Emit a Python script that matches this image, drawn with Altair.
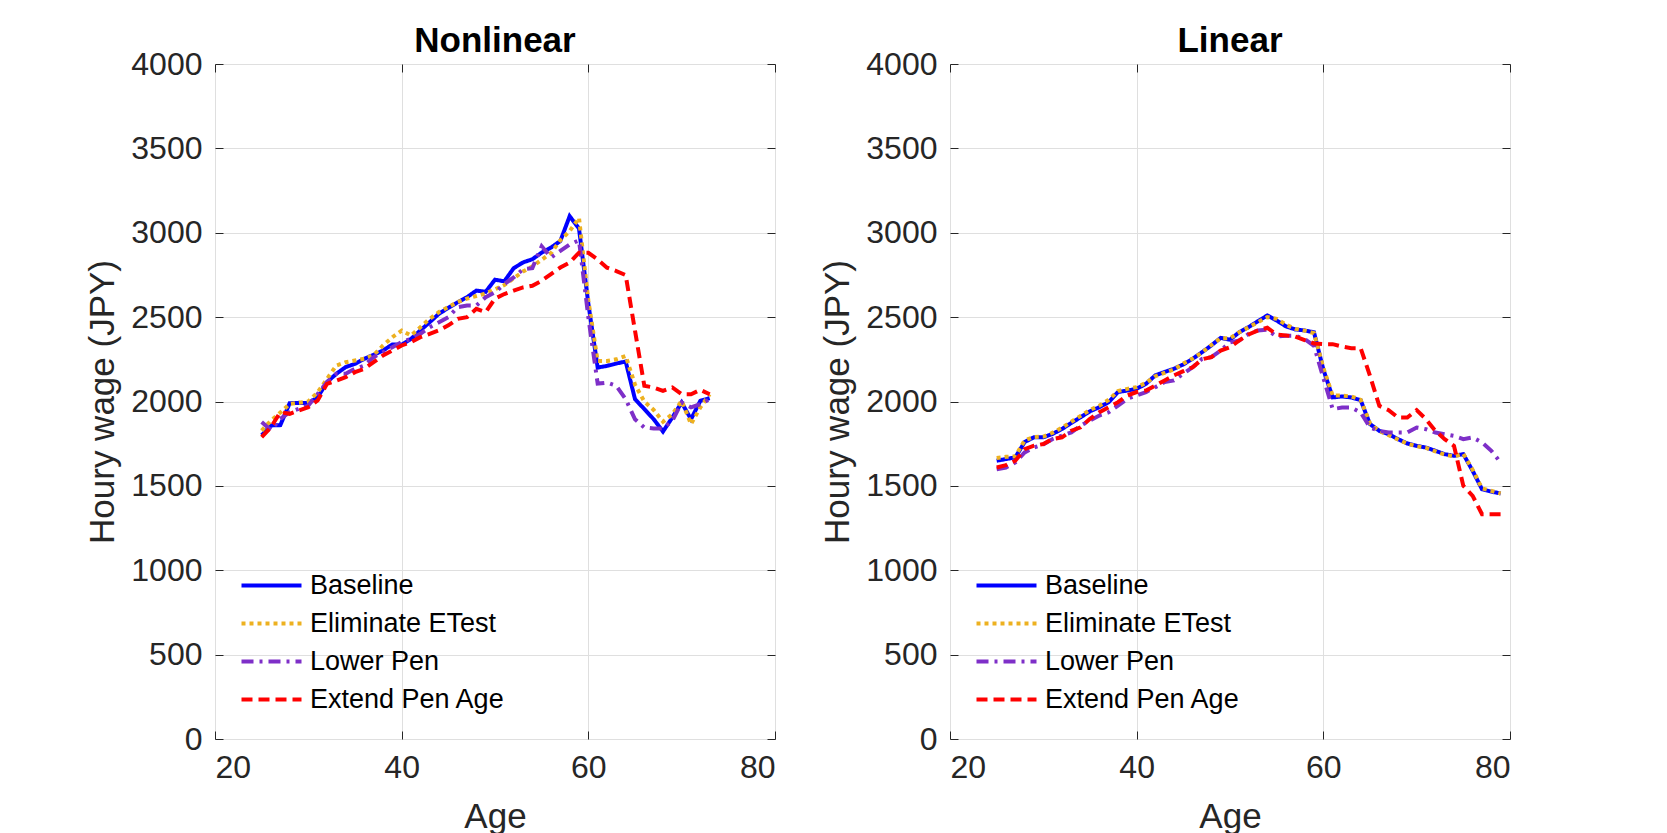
import altair as alt
import pandas as pd

SERIES = ["Baseline", "Eliminate ETest", "Lower Pen", "Extend Pen Age"]
COLORS = ["#0000FF", "#EDB120", "#7E2FC8", "#FF0000"]
DASHES = [[1, 0], [4, 4], [12, 6, 3, 6], [11, 6]]

# ---- Nonlinear panel (ages 25-73) ----
ages_nl = list(range(25, 74))
nl_baseline = [1800, 1858, 1860, 1990, 1992, 1990, 2025, 2115, 2164, 2204,
               2223, 2253, 2277, 2302, 2338, 2336, 2371, 2421, 2470, 2520,
               2555, 2588, 2618, 2657, 2650, 2722, 2712, 2790, 2824, 2843,
               2882, 2912, 2951, 3098, 3025, 2580, 2201, 2211, 2225, 2237,
               2014, 1955, 1895, 1822, 1905, 1994, 1895, 2004, 2020]
nl_elim = [1828, 1887, 1935, 1986, 1992, 2000, 2055, 2134, 2213, 2233,
           2243, 2253, 2275, 2332, 2381, 2420, 2391, 2440, 2490, 2530,
           2560, 2590, 2610, 2625, 2640, 2665, 2690, 2730, 2770, 2800,
           2840, 2880, 2955, 3010, 3088, 2600, 2240, 2240, 2250, 2270,
           2100, 2000, 1950, 1880, 1925, 2004, 1866, 1965, 2043]
nl_lower = [1878, 1830, 1897, 1937, 1957, 1976, 2045, 2115, 2164, 2164,
            2194, 2213, 2263, 2292, 2322, 2352, 2371, 2401, 2440, 2470,
            2500, 2559, 2569, 2569, 2618, 2647, 2696, 2735, 2784, 2790,
            2920, 2853, 2892, 2931, 2955, 2500, 2106, 2112, 2093, 2014,
            1895, 1846, 1840, 1840, 1886, 1994, 1965, 1984, 2014]
nl_extend = [1789, 1848, 1937, 1927, 1947, 1966, 2006, 2105, 2124, 2144,
             2174, 2194, 2233, 2273, 2302, 2332, 2352, 2381, 2401, 2422,
             2451, 2490, 2500, 2549, 2530, 2610, 2637, 2657, 2676, 2686,
             2716, 2755, 2794, 2824, 2882, 2881, 2842, 2793, 2773, 2749,
             2420, 2093, 2083, 2063, 2083, 2043, 2043, 2069, 2043]

# ---- Linear panel (ages 25-79) ----
ages_li = list(range(25, 80))
li_baseline = [1649, 1659, 1669, 1760, 1788, 1788, 1808, 1837, 1873, 1907,
               1942, 1966, 1996, 2056, 2065, 2075, 2105, 2155, 2175, 2194,
               2220, 2253, 2292, 2332, 2377, 2366, 2411, 2441, 2476, 2510,
               2480, 2445, 2427, 2421, 2410, 2190, 2024, 2030, 2024, 2008,
               1866, 1826, 1806, 1777, 1751, 1737, 1727, 1708, 1688, 1678,
               1688, 1589, 1480, 1466, 1455]
li_elim = [1665, 1672, 1675, 1770, 1790, 1792, 1815, 1845, 1880, 1915,
           1950, 1975, 2010, 2062, 2075, 2085, 2110, 2150, 2170, 2190,
           2225, 2255, 2290, 2335, 2375, 2375, 2410, 2440, 2470, 2500,
           2490, 2455, 2430, 2420, 2405, 2200, 2035, 2035, 2030, 2010,
           1870, 1825, 1800, 1775, 1750, 1735, 1725, 1705, 1685, 1675,
           1690, 1595, 1485, 1470, 1455]
li_lower = [1599, 1609, 1639, 1698, 1728, 1745, 1778, 1798, 1817, 1857,
            1887, 1917, 1936, 1976, 2016, 2036, 2056, 2085, 2115, 2125,
            2164, 2203, 2253, 2263, 2302, 2350, 2362, 2401, 2421, 2425,
            2385, 2390, 2390, 2370, 2330, 2140, 1955, 1964, 1964, 1935,
            1846, 1826, 1816, 1816, 1816, 1846, 1836, 1816, 1806, 1796,
            1777, 1787, 1757, 1708, 1638]
li_extend = [1609, 1623, 1649, 1718, 1738, 1748, 1778, 1788, 1827, 1847,
             1897, 1936, 1966, 1996, 2036, 2056, 2065, 2095, 2125, 2155,
             2180, 2203, 2250, 2263, 2302, 2322, 2362, 2397, 2421, 2437,
             2397, 2391, 2385, 2364, 2344, 2340, 2340, 2326, 2316, 2316,
             2152, 1974, 1949, 1905, 1905, 1949, 1895, 1826, 1777, 1737,
             1500, 1441, 1332, 1332, 1332]

X_TICKS = [20, 40, 60, 80]
Y_TICKS = [0, 500, 1000, 1500, 2000, 2500, 3000, 3500, 4000]

FONT = "Liberation Sans"
AX = "#262626"
GRID = "#DFDFDF"


def long_df(ages, series_lists):
    rows = []
    for name, vals in zip(SERIES, series_lists):
        for a, v in zip(ages, vals):
            rows.append({"Age": a, "Wage": v, "Series": name})
    return pd.DataFrame(rows)


def panel(df, title):
    xscale = alt.Scale(domain=[20, 80], nice=False, zero=False)
    yscale = alt.Scale(domain=[0, 4000], nice=False)
    legend = alt.Legend(
        title=None, orient="none", legendX=43, legendY=508,
        symbolType="M-3,0H3", symbolSize=400, symbolStrokeWidth=4,
        labelFontSize=27, labelFont=FONT, labelColor="black", labelLimit=0,
        labelOffset=25, rowPadding=10, padding=0,
    )
    color = alt.Color("Series:N", scale=alt.Scale(domain=SERIES, range=COLORS), legend=legend)
    dash = alt.StrokeDash("Series:N", scale=alt.Scale(domain=SERIES, range=DASHES), legend=legend)
    x_axis = alt.Axis(
        orient="bottom", values=X_TICKS, format="d", offset=-8, tickSize=8,
        domain=False, grid=True, gridColor=GRID, tickColor=AX,
        labelFontSize=32, labelFont=FONT, labelColor=AX, labelPadding=13,
        title="Age", titleFontSize=35, titleFont=FONT, titleFontWeight="normal",
        titleColor=AX, titlePadding=16,
    )
    y_axis = alt.Axis(
        orient="left", values=Y_TICKS, format="d", offset=-8, tickSize=8,
        domain=False, grid=True, gridColor=GRID, tickColor=AX,
        labelFontSize=32, labelFont=FONT, labelColor=AX, labelPadding=13,
        title="Houry wage (JPY)", titleFontSize=35, titleFont=FONT,
        titleFontWeight="normal", titleColor=AX, titlePadding=10,
    )
    layers = []
    for i, name in enumerate(SERIES):
        layers.append(
            alt.Chart(df).transform_filter(alt.datum.Series == name)
            .mark_line(strokeWidth=4)
            .encode(
                x=alt.X("Age:Q", scale=xscale, axis=x_axis if i == 0 else None),
                y=alt.Y("Wage:Q", scale=yscale, axis=y_axis if i == 0 else None),
                color=color, strokeDash=dash,
            )
        )
    ticks = alt.Chart(df).mark_line(opacity=0).encode(
        x=alt.X("Age:Q", scale=xscale, axis=alt.Axis(
            orient="top", values=X_TICKS, offset=-8, tickSize=8, domain=False,
            grid=False, labels=False, title=None, tickColor=AX)),
        y=alt.Y("Wage:Q", scale=yscale, axis=alt.Axis(
            orient="right", values=Y_TICKS, offset=-8, tickSize=8, domain=False,
            grid=False, labels=False, title=None, tickColor=AX)),
    )
    return alt.layer(*layers, ticks).resolve_axis(x="independent", y="independent").properties(
        width=560, height=675,
        title=alt.TitleParams(title, fontSize=35, fontWeight="bold", font=FONT,
                              color="black", offset=-11, frame="group", anchor="middle"),
    )


df_nl = long_df(ages_nl, [nl_baseline, nl_elim, nl_lower, nl_extend])
df_li = long_df(ages_li, [li_baseline, li_elim, li_lower, li_extend])

chart = alt.hconcat(panel(df_nl, "Nonlinear"), panel(df_li, "Linear"), spacing=44).resolve_scale(
    color="independent", strokeDash="independent"
).resolve_legend(color="independent", strokeDash="independent").properties(
    padding={"left": 77, "top": 15, "right": 5, "bottom": 0}
).configure_view(stroke=AX, strokeWidth=1).configure(background="white")

chart.save("out.html", embed_options={"renderer": "svg", "actions": False})
